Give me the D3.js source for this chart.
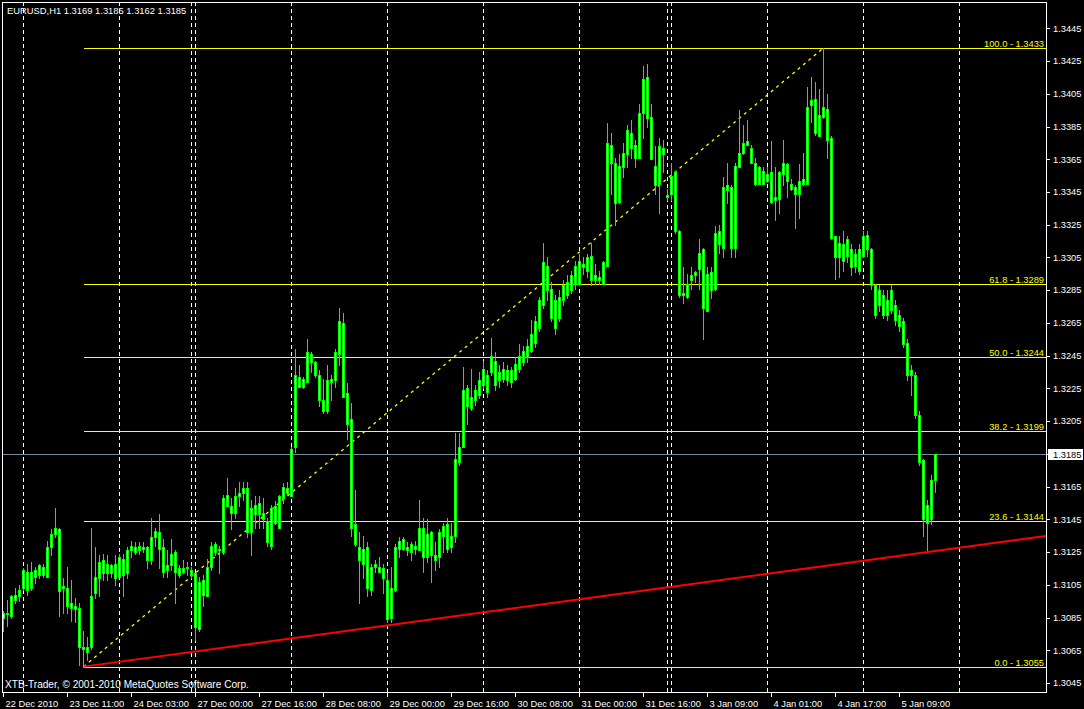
<!DOCTYPE html>
<html><head><meta charset="utf-8">
<script src="https://cdn.jsdelivr.net/npm/d3@7/dist/d3.min.js"></script>
<style>
html,body{margin:0;padding:0;background:#000;overflow:hidden}
text{font-family:"Liberation Sans",Arial,sans-serif;font-size:9.3px}
</style></head>
<body>
<svg id="c" width="1084" height="709"></svg>
<script>
// ---- DATA (EURUSD H1) ----
const opens = [
1.3088,1.3087,1.3086,1.3099,1.3098,1.3103,1.3113,1.3103,1.3114,1.3111,
1.3116,1.3110,1.3128,1.3136,1.3139,1.3103,1.3103,1.3094,1.3092,1.3091,
1.3067,1.3064,1.3067,1.3100,1.3109,1.3120,1.3112,1.3117,1.3109,1.3110,
1.3121,1.3112,1.3126,1.3128,1.3126,1.3128,1.3128,1.3120,1.3134,1.3137,
1.3128,1.3114,1.3117,1.3125,1.3111,1.3115,1.3115,1.3114,1.3112,1.3078,
1.3108,1.3098,1.3116,1.3130,1.3126,1.3125,1.3160,1.3153,1.3149,1.3159,
1.3161,1.3164,1.3137,1.3154,1.3148,1.3149,1.3144,1.3129,1.3153,1.3140,
1.3158,1.3164,1.3159,1.3189,1.3232,1.3226,1.3229,1.3246,1.3241,1.3233,
1.3218,1.3211,1.3229,1.3230,1.3246,1.3265,1.3222,1.3206,1.3142,1.3128,
1.3118,1.3128,1.3102,1.3116,1.3116,1.3115,1.3108,1.3085,1.3102,1.3127,
1.3133,1.3126,1.3125,1.3129,1.3126,1.3140,1.3122,1.3137,1.3123,1.3122,
1.3135,1.3142,1.3128,1.3135,1.3180,1.3189,1.3225,1.3213,1.3218,1.3221,
1.3227,1.3233,1.3235,1.3242,1.3230,1.3231,1.3236,1.3229,1.3231,1.3237,
1.3241,1.3244,1.3248,1.3253,1.3262,1.3276,1.3300,1.3286,1.3279,1.3268,
1.3279,1.3282,1.3285,1.3289,1.3289,1.3301,1.3297,1.3306,1.3291,1.3293,
1.3289,1.3300,1.3374,1.3363,1.3339,1.3360,1.3368,1.3381,1.3374,1.3366,
1.3393,1.3415,1.3391,1.3361,1.3350,1.3372,1.3343,1.3344,1.3357,1.3321,
1.3282,1.3281,1.3291,1.3294,1.3298,1.3310,1.3272,1.3296,1.3286,1.3321,
1.3311,1.3349,1.3348,1.3311,1.3360,1.3369,1.3374,1.3372,1.3363,1.3350,
1.3358,1.3352,1.3357,1.3340,1.3341,1.3356,1.3362,1.3350,1.3348,1.3344,
1.3350,1.3350,1.3398,1.3402,1.3379,1.3391,1.3396,1.3378,1.3318,1.3305,
1.3313,1.3306,1.3310,1.3300,1.3310,1.3306,1.3319,1.3310,1.3288,1.3276,
1.3282,1.3270,1.3273,1.3276,1.3270,1.3266,1.3253,1.3233,1.3233,1.3209,
1.3181,1.3154,1.3145,1.3169];
const highs = [
1.3089,1.3096,1.3099,1.3103,1.3105,1.3115,1.3118,1.3119,1.3116,1.3118,
1.3118,1.3132,1.3139,1.3152,1.3140,1.3109,1.3116,1.3108,1.3097,1.3094,
1.3077,1.3073,1.3140,1.3128,1.3123,1.3124,1.3123,1.3118,1.3123,1.3124,
1.3124,1.3128,1.3132,1.3131,1.3131,1.3131,1.3129,1.3146,1.3140,1.3148,
1.3133,1.3126,1.3133,1.3126,1.3117,1.3120,1.3119,1.3116,1.3112,1.3110,
1.3111,1.3121,1.3131,1.3131,1.3129,1.3160,1.3170,1.3158,1.3164,1.3168,
1.3168,1.3168,1.3157,1.3159,1.3159,1.3158,1.3146,1.3154,1.3156,1.3160,
1.3167,1.3168,1.3189,1.3249,1.3239,1.3232,1.3255,1.3247,1.3242,1.3236,
1.3231,1.3239,1.3233,1.3249,1.3274,1.3271,1.3228,1.3216,1.3163,1.3137,
1.3135,1.3131,1.3118,1.3120,1.3122,1.3118,1.3112,1.3116,1.3130,1.3134,
1.3134,1.3131,1.3131,1.3132,1.3157,1.3146,1.3145,1.3138,1.3131,1.3139,
1.3143,1.3146,1.3143,1.3198,1.3198,1.3238,1.3227,1.3237,1.3227,1.3235,
1.3242,1.3236,1.3256,1.3247,1.3239,1.3241,1.3239,1.3238,1.3244,1.3252,
1.3251,1.3255,1.3267,1.3269,1.3281,1.3314,1.3305,1.3290,1.3282,1.3285,
1.3291,1.3294,1.3297,1.3303,1.3307,1.3305,1.3307,1.3314,1.3301,1.3297,
1.3303,1.3387,1.3381,1.3366,1.3368,1.3375,1.3386,1.3389,1.3377,1.3399,
1.3422,1.3423,1.3399,1.3373,1.3378,1.3377,1.3347,1.3363,1.3358,1.3322,
1.3299,1.3295,1.3299,1.3297,1.3316,1.3311,1.3299,1.3299,1.3324,1.3325,
1.3354,1.3363,1.3349,1.3363,1.3395,1.3386,1.3389,1.3374,1.3366,1.3361,
1.3360,1.3360,1.3376,1.3360,1.3358,1.3377,1.3363,1.3353,1.3349,1.3362,
1.3369,1.3409,1.3415,1.3412,1.3408,1.3433,1.3405,1.3379,1.3318,1.3318,
1.3321,1.3318,1.3313,1.3310,1.3313,1.3321,1.3321,1.3311,1.3289,1.3288,
1.3285,1.3285,1.3288,1.3279,1.3273,1.3268,1.3255,1.3239,1.3235,1.3211,
1.3182,1.3157,1.3172,1.3185];
const lows = [
1.3077,1.3080,1.3085,1.3094,1.3095,1.3102,1.3099,1.3102,1.3106,1.3109,
1.3110,1.3110,1.3123,1.3134,1.3086,1.3088,1.3088,1.3083,1.3082,1.3056,
1.3055,1.3059,1.3066,1.3097,1.3098,1.3108,1.3108,1.3110,1.3105,1.3110,
1.3098,1.3109,1.3122,1.3124,1.3124,1.3125,1.3115,1.3118,1.3129,1.3115,
1.3110,1.3110,1.3114,1.3094,1.3110,1.3112,1.3111,1.3109,1.3071,1.3077,
1.3092,1.3098,1.3114,1.3123,1.3112,1.3124,1.3153,1.3139,1.3146,1.3153,
1.3157,1.3134,1.3123,1.3140,1.3140,1.3140,1.3129,1.3127,1.3142,1.3140,
1.3155,1.3160,1.3159,1.3186,1.3226,1.3225,1.3229,1.3235,1.3232,1.3214,
1.3210,1.3210,1.3218,1.3226,1.3239,1.3220,1.3194,1.3135,1.3129,1.3094,
1.3109,1.3098,1.3099,1.3113,1.3113,1.3100,1.3082,1.3082,1.3101,1.3122,
1.3126,1.3123,1.3120,1.3124,1.3126,1.3113,1.3119,1.3107,1.3114,1.3116,
1.3125,1.3125,1.3125,1.3131,1.3178,1.3189,1.3203,1.3212,1.3215,1.3219,
1.3225,1.3220,1.3233,1.3224,1.3226,1.3229,1.3227,1.3226,1.3230,1.3235,
1.3239,1.3241,1.3247,1.3250,1.3260,1.3274,1.3279,1.3266,1.3258,1.3266,
1.3276,1.3280,1.3283,1.3286,1.3288,1.3295,1.3293,1.3288,1.3289,1.3289,
1.3289,1.3300,1.3344,1.3325,1.3338,1.3354,1.3360,1.3366,1.3360,1.3366,
1.3378,1.3385,1.3365,1.3344,1.3332,1.3357,1.3340,1.3340,1.3320,1.3281,
1.3277,1.3280,1.3286,1.3290,1.3286,1.3255,1.3272,1.3280,1.3285,1.3308,
1.3305,1.3338,1.3305,1.3305,1.3360,1.3368,1.3374,1.3363,1.3349,1.3350,
1.3350,1.3351,1.3338,1.3328,1.3332,1.3349,1.3342,1.3346,1.3323,1.3329,
1.3349,1.3350,1.3388,1.3380,1.3379,1.3390,1.3366,1.3316,1.3292,1.3293,
1.3297,1.3302,1.3294,1.3296,1.3295,1.3305,1.3306,1.3286,1.3268,1.3272,
1.3268,1.3267,1.3271,1.3264,1.3260,1.3250,1.3230,1.3221,1.3207,1.3178,
1.3135,1.3126,1.3142,1.3162];
const closes = [
1.3085,1.3088,1.3098,1.3096,1.3102,1.3114,1.3102,1.3113,1.3110,1.3117,
1.3111,1.3128,1.3136,1.3140,1.3101,1.3104,1.3092,1.3091,1.3090,1.3067,
1.3066,1.3067,1.3098,1.3110,1.3119,1.3112,1.3118,1.3112,1.3118,1.3122,
1.3111,1.3126,1.3129,1.3125,1.3129,1.3127,1.3120,1.3134,1.3138,1.3127,
1.3113,1.3117,1.3124,1.3113,1.3115,1.3113,1.3116,1.3111,1.3079,1.3107,
1.3099,1.3116,1.3129,1.3125,1.3127,1.3158,1.3153,1.3149,1.3159,1.3161,
1.3164,1.3137,1.3152,1.3148,1.3155,1.3145,1.3131,1.3152,1.3143,1.3159,
1.3165,1.3161,1.3188,1.3233,1.3226,1.3231,1.3247,1.3241,1.3233,1.3218,
1.3211,1.3230,1.3231,1.3247,1.3266,1.3220,1.3203,1.3140,1.3130,1.3120,
1.3127,1.3103,1.3116,1.3118,1.3113,1.3109,1.3084,1.3103,1.3128,1.3132,
1.3127,1.3128,1.3130,1.3127,1.3140,1.3122,1.3136,1.3123,1.3120,1.3137,
1.3141,1.3127,1.3135,1.3182,1.3189,1.3224,1.3214,1.3220,1.3224,1.3230,
1.3237,1.3223,1.3245,1.3227,1.3235,1.3237,1.3230,1.3236,1.3240,1.3245,
1.3248,1.3251,1.3258,1.3266,1.3279,1.3302,1.3285,1.3268,1.3262,1.3281,
1.3288,1.3290,1.3294,1.3300,1.3303,1.3299,1.3305,1.3291,1.3294,1.3291,
1.3302,1.3375,1.3363,1.3338,1.3361,1.3369,1.3383,1.3372,1.3366,1.3393,
1.3414,1.3390,1.3365,1.3349,1.3373,1.3368,1.3342,1.3355,1.3321,1.3282,
1.3283,1.3289,1.3294,1.3296,1.3308,1.3274,1.3295,1.3285,1.3320,1.3313,
1.3348,1.3346,1.3311,1.3361,1.3369,1.3375,1.3376,1.3363,1.3350,1.3360,
1.3350,1.3356,1.3339,1.3342,1.3357,1.3363,1.3352,1.3347,1.3344,1.3352,
1.3353,1.3397,1.3401,1.3381,1.3392,1.3397,1.3377,1.3317,1.3305,1.3314,
1.3303,1.3316,1.3299,1.3307,1.3297,1.3318,1.3310,1.3288,1.3270,1.3285,
1.3270,1.3279,1.3285,1.3267,1.3263,1.3252,1.3233,1.3236,1.3209,1.3180,
1.3145,1.3143,1.3169,1.3185];

const priceTicks = [1.3045,1.3065,1.3085,1.3105,1.3125,1.3145,1.3165,1.3185,1.3205,1.3225,1.3245,
                    1.3265,1.3285,1.3305,1.3325,1.3345,1.3365,1.3385,1.3405,1.3425,1.3445];
const timeTickBars = [0,16,32,48,64,80,96,112,128,144,160,176,192,208,224];
const timeLabels = ["22 Dec 2010","23 Dec 11:00","24 Dec 03:00","27 Dec 00:00","27 Dec 16:00",
  "28 Dec 08:00","29 Dec 00:00","29 Dec 16:00","30 Dec 08:00","31 Dec 00:00","31 Dec 16:00",
  "3 Jan 09:00","4 Jan 01:00","4 Jan 17:00","5 Jan 09:00"];
const gridBars = [5,29,47,48,72,96,120,144,166,167,191,215,239];
const fibLevels = [0.0,23.6,38.2,50.0,61.8,100.0];
const fibPrices = [1.3055,1.3144,1.3199,1.3244,1.3289,1.3433];
const fibStart = {bar:20, price:1.3055};
const fibEnd = {bar:205, price:1.3433};
const trendA = {bar:20, price:1.3055};
const trendB = {bar:231, price:1.3125};
const lastPrice = 1.3185;
const title = "EURUSD,H1  1.3169 1.3185 1.3162 1.3185";
const footer = "XTB-Trader, \u00A9 2001-2010 MetaQuotes Software Corp.";

// ---- LAYOUT ----
const L = 2, T = 2, R = 1046, B = 692;
const x = d3.scaleLinear().domain([0, 260]).range([3.5, 1043.5]);
const y = d3.scaleLinear().domain([1.3045, 1.3445]).range([683, 28.3]);
const svg = d3.select("#c");
const LIME = "#00ff00", YEL = "#ffff00";

svg.append("rect").attr("width",1084).attr("height",709).attr("fill","#000");

svg.append("clipPath").attr("id","plot").append("rect")
  .attr("x",L+1).attr("y",T+1).attr("width",R-L-1).attr("height",B-T-1);
const g = svg.append("g").attr("clip-path","url(#plot)");

// vertical grid (dashed)
g.selectAll("line.grid").data(gridBars).join("line")
  .attr("x1",d=>x(d)).attr("x2",d=>x(d)).attr("y1",T).attr("y2",B)
  .attr("stroke","#fff").attr("stroke-width",1).attr("stroke-dasharray","4,3")
  .attr("shape-rendering","crispEdges");

// fib horizontal lines
g.selectAll("line.fib").data(fibPrices).join("line")
  .attr("x1",x(fibStart.bar)).attr("x2",R).attr("y1",d=>Math.round(y(d))+0.5).attr("y2",d=>Math.round(y(d))+0.5)
  .attr("stroke",YEL).attr("stroke-width",1).attr("shape-rendering","crispEdges");

// current price line
g.append("line").attr("x1",L).attr("x2",R)
  .attr("y1",Math.round(y(lastPrice))+0.5).attr("y2",Math.round(y(lastPrice))+0.5)
  .attr("stroke","#778899").attr("shape-rendering","crispEdges");

// fib diagonal
g.append("line").attr("x1",x(fibStart.bar)).attr("y1",y(fibStart.price))
  .attr("x2",x(fibEnd.bar)).attr("y2",y(fibEnd.price))
  .attr("stroke",YEL).attr("stroke-width",1.3).attr("stroke-dasharray","3,4");

// trend line (ray)
const slope = (y(trendB.price)-y(trendA.price))/(x(trendB.bar)-x(trendA.bar));
g.append("line").attr("x1",x(trendA.bar)).attr("y1",y(trendA.price))
  .attr("x2",R).attr("y2",y(trendA.price)+slope*(R-x(trendA.bar)))
  .attr("stroke","#ff0000").attr("stroke-width",2);

// candles
const bars = opens.map((o,i)=>({i,o,h:highs[i],l:lows[i],c:closes[i]}));
const cg = g.append("g").attr("shape-rendering","crispEdges");
cg.selectAll("line.wick").data(bars).join("line")
  .attr("x1",d=>x(d.i)).attr("x2",d=>x(d.i))
  .attr("y1",d=>Math.round(y(d.h))).attr("y2",d=>Math.round(y(d.l))+1)
  .attr("stroke",LIME).attr("stroke-width",1);
cg.selectAll("rect.body").data(bars).join("rect")
  .attr("x",d=>x(d.i)-1.5).attr("width",3)
  .attr("y",d=>Math.round(y(Math.max(d.o,d.c))))
  .attr("height",d=>Math.max(1,Math.round(y(Math.min(d.o,d.c)))-Math.round(y(Math.max(d.o,d.c)))+1))
  .attr("fill",LIME);
cg.selectAll("rect.inner").data(bars.filter(d=>Math.round(y(Math.min(d.o,d.c)))-Math.round(y(Math.max(d.o,d.c)))>=2)).join("rect")
  .attr("x",d=>x(d.i)-0.5).attr("width",1)
  .attr("y",d=>Math.round(y(Math.max(d.o,d.c)))+1)
  .attr("height",d=>Math.round(y(Math.min(d.o,d.c)))-Math.round(y(Math.max(d.o,d.c)))-1)
  .attr("fill","#fff");

// fib labels
g.selectAll("text.fib").data(fibLevels).join("text")
  .attr("x",R-2).attr("y",(d,i)=>Math.round(y(fibPrices[i]))-1)
  .attr("text-anchor","end").attr("fill",YEL)
  .text((d,i)=>d.toFixed(1)+" - "+fibPrices[i].toFixed(4));

// texts
svg.append("text").attr("x",7).attr("y",14).attr("fill","#fff").style("font-size","9.4px").text(title);
svg.append("text").attr("x",5).attr("y",688).attr("fill","#fff").style("font-size","10.1px").text(footer);

// frame
svg.append("rect").attr("x",L+0.5).attr("y",T+0.5).attr("width",R-L).attr("height",B-T)
  .attr("fill","none").attr("stroke","#fff").attr("shape-rendering","crispEdges");

// price axis
const pa = svg.append("g");
pa.selectAll("line").data(priceTicks).join("line")
  .attr("x1",R).attr("x2",R+4).attr("y1",d=>Math.round(y(d))+0.5).attr("y2",d=>Math.round(y(d))+0.5)
  .attr("stroke","#fff").attr("shape-rendering","crispEdges");
pa.selectAll("text").data(priceTicks).join("text")
  .attr("x",R+7).attr("y",d=>y(d)+3.3).attr("fill","#fff").text(d=>d.toFixed(4));

// last price box
const ly = Math.round(y(lastPrice));
svg.append("rect").attr("x",R+2).attr("y",ly-5).attr("width",35).attr("height",11).attr("fill","#fff");
svg.append("text").attr("x",R+7).attr("y",ly+3.5).attr("fill","#000").text(lastPrice.toFixed(4));

// time axis
const ta = svg.append("g");
ta.selectAll("line").data(timeTickBars).join("line")
  .attr("x1",d=>x(d)).attr("x2",d=>x(d)).attr("y1",B).attr("y2",B+5)
  .attr("stroke","#fff").attr("shape-rendering","crispEdges");
ta.selectAll("text").data(timeTickBars).join("text")
  .attr("x",d=>x(d)+2).attr("y",707).attr("fill","#fff").text((d,i)=>timeLabels[i]);
</script>
</body></html>
